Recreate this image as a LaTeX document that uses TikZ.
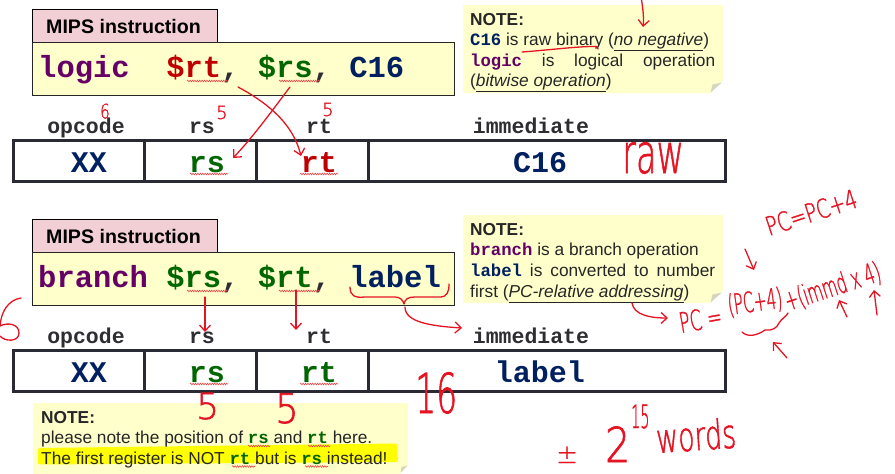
\documentclass[tikz,border=0pt]{standalone}
\usepackage{fontspec}
\setmainfont{Liberation Sans}
\newfontfamily\mono{Liberation Mono}
\newfontfamily\hand[FakeBold=1.5]{DejaVu Sans ExtraLight}
\usetikzlibrary{arrows.meta,decorations.pathmorphing}
\definecolor{tabpink}{RGB}{242,207,212}
\definecolor{boxyel}{RGB}{255,255,204}
\definecolor{foldgray}{RGB}{214,214,190}
\definecolor{opcol}{RGB}{102,0,102}
\definecolor{rtred}{RGB}{192,0,0}
\definecolor{rsgreen}{RGB}{0,102,0}
\definecolor{navyc}{RGB}{0,32,96}
\definecolor{lblgray}{RGB}{45,45,50}
\definecolor{tblline}{RGB}{42,42,52}
\definecolor{hred}{RGB}{230,20,35}
\definecolor{squigc}{RGB}{235,70,70}
\definecolor{txtgray}{RGB}{38,38,38}
\definecolor{hilite}{RGB}{255,255,0}
\newcommand\fsz[1]{\fontsize{#1}{#1}\selectfont}
\newcommand\mbx[2]{{\mono\bfseries\color{#1}#2}}
\newcommand\hsc[2]{\scalebox{#1}[1]{#2}}
\begin{document}
\begin{tikzpicture}[x=1pt,y=-1pt,
  tabst/.style={draw=black,fill=tabpink,line width=0.9pt},
  boxst/.style={draw=black!85,fill=boxyel,line width=0.9pt},
  tabtxt/.style={anchor=base west,inner sep=0pt,font=\bfseries\fsz{19.6}},
  tok/.style={anchor=base west,inner sep=0pt,font=\mono\bfseries\fsz{30.5}},
  fieldlbl/.style={anchor=base,inner sep=0pt,font=\mono\bfseries\fsz{21.5},text=lblgray},
  cell/.style={anchor=base,inner sep=0pt,font=\mono\bfseries\fsz{30}},
  tbl/.style={draw=tblline,line width=3pt},
  notebg/.style={fill=boxyel},
  fold/.style={fill=foldgray},
  notetxt/.style={anchor=base west,inner sep=0pt,font=\fsz{17.3},text=txtgray},
  hw/.style={draw=hred,line width=1.3pt,line cap=round,line join=round},
  hwarr/.style={hw,-{Straight Barb[length=6pt,width=11pt]}},
  hwt/.style={anchor=base west,inner sep=0pt,text=hred},
  squig/.style={draw=squigc,line width=0.6pt,decorate,decoration={snake,amplitude=0.8pt,segment length=2.4pt}}
]
\useasboundingbox (0,0) rectangle (895,474);
\fill[white] (0,0) rectangle (895,474);

% ===== first block =====
\draw[tabst] (32,9) rectangle (217,42);
\node[tabtxt] (tab1) at (46,33) {MIPS instruction};
\draw[boxst] (32,42) rectangle (454,95);
\node[tok,text=opcol] (l1op) at (38,77.5) {logic};
\node[tok,text=rtred] (l1rt) at (166.1,77.5) {\$rt};
\node[tok,text=lblgray] (l1c1) at (221,77.5) {,};
\node[tok,text=rsgreen] (l1rs) at (257.6,77.5) {\$rs};
\node[tok,text=lblgray] (l1c2) at (312.5,77.5) {,};
\node[tok,text=navyc] (l1im) at (349.1,77.5) {C16};
\draw[squig] (187,81) -- (228,81);
\draw[squig] (279,81) -- (320,81);

\node[fieldlbl] (f1op) at (86,133) {opcode};
\node[fieldlbl] (f1rs) at (202,133) {rs};
\node[fieldlbl] (f1rt) at (319,133) {rt};
\node[fieldlbl] (f1im) at (531,133) {immediate};

\draw[tbl] (13,140) rectangle (725,181);
\draw[tbl] (144,140) -- (144,181);
\draw[tbl] (256,140) -- (256,181);
\draw[tbl] (368,140) -- (368,181);
\node[cell,text=navyc] (c1op) at (89,172) {XX};
\node[cell,text=rsgreen] (c1rs) at (207,172) {rs};
\node[cell,text=rtred] (c1rt) at (319,172) {rt};
\node[cell,text=navyc] (c1im) at (540,172) {C16};
\draw[squig] (190,174) -- (228,174);
\draw[squig] (300,174) -- (338,174);

% note 1
\fill[notebg] (463,5) -- (723,5) -- (723,80) -- (710,93) -- (463,93) -- cycle;
\fill[fold] (710.5,92.5) -- (712.5,84.5) -- (722,82.5) -- cycle;
\node[notetxt] (n1a) at (470,25) {\textbf{NOTE:}};
\node[notetxt] (n1b) at (470,45.5) {\mbx{navyc}{C16} is raw binary (\underline{\textit{no negative}})};
\node[notetxt] (n1c) at (470,66) {\makebox[245pt][s]{\mbx{opcol}{logic} is logical operation}};
\node[notetxt] (n1d) at (470,86.7) {(\underline{\textit{bitwise operation}})};

% ===== second block =====
\draw[tabst] (32,219) rectangle (217,252);
\node[tabtxt] (tab2) at (46,243) {MIPS instruction};
\draw[boxst] (32,252) rectangle (454,305);
\node[tok,text=opcol] (l2op) at (38,287.5) {branch};
\node[tok,text=rsgreen] (l2rs) at (166.1,287.5) {\$rs};
\node[tok,text=lblgray] (l2c1) at (221,287.5) {,};
\node[tok,text=rsgreen] (l2rt) at (257.6,287.5) {\$rt};
\node[tok,text=lblgray] (l2c2) at (312.5,287.5) {,};
\node[tok,text=navyc] (l2im) at (349.1,287.5) {label};
\draw[squig] (187,291) -- (228,291);
\draw[squig] (279,291) -- (320,291);

\node[fieldlbl] (f2op) at (86,343) {opcode};
\node[fieldlbl] (f2rs) at (202,343) {rs};
\node[fieldlbl] (f2rt) at (319,343) {rt};
\node[fieldlbl] (f2im) at (531,343) {immediate};

\draw[tbl] (13,350) rectangle (725,391);
\draw[tbl] (144,350) -- (144,391);
\draw[tbl] (256,350) -- (256,391);
\draw[tbl] (368,350) -- (368,391);
\node[cell,text=navyc] (c2op) at (89,382) {XX};
\node[cell,text=rsgreen] (c2rs) at (207,382) {rs};
\node[cell,text=rsgreen] (c2rt) at (319,382) {rt};
\node[cell,text=navyc] (c2im) at (540,382) {label};
\draw[squig] (190,384) -- (228,384);
\draw[squig] (300,384) -- (338,384);

% note 2
\fill[notebg] (463,215) -- (723,215) -- (723,290) -- (710,303) -- (463,303) -- cycle;
\fill[fold] (710.5,302.5) -- (712.5,294.5) -- (722,292.5) -- cycle;
\node[notetxt] (n2a) at (470,235) {\textbf{NOTE:}};
\node[notetxt] (n2b) at (470,255.5) {\mbx{opcol}{branch} is a branch operation};
\node[notetxt] (n2c) at (470,276.5) {\makebox[245pt][s]{\mbx{navyc}{label} is converted to number}};
\node[notetxt] (n2d) at (470,297.5) {first (\underline{\textit{PC-relative addressing}})};

% note 3
\fill[notebg] (33,403) -- (408,403) -- (408,465) -- (400,474) -- (33,474) -- cycle;
\fill[fold] (400.5,473) -- (401.5,467) -- (407.5,465.5) -- cycle;
\fill[hilite, rounded corners=2pt] (38,448) -- (397,443.5) -- (398,462) -- (38,464.5) -- cycle;
\node[notetxt] (n3a) at (41,423) {\textbf{NOTE:}};
\node[notetxt] (n3b) at (41,443.5) {please note the position of \mbx{rsgreen}{rs} and \mbx{rsgreen}{rt} here.};
\node[notetxt] (n3c) at (41,464) {The first register is NOT \mbx{rsgreen}{rt} but is \mbx{rsgreen}{rs} instead!};
\draw[squig] (248,446) -- (270,446);
\draw[squig] (308,446) -- (330,446);
\draw[squig] (232,466.5) -- (255,466.5);
\draw[squig] (305,466.5) -- (328,466.5);

% ===== handwritten annotations =====
\coordinate (a1s) at (238,87);   \coordinate (a1e) at (301,156);
\coordinate (a2s) at (290,87);   \coordinate (a2e) at (233,158);
\draw[hwarr] (a1s) .. controls (262,100) and (292,120) .. (a1e);
\draw[hwarr] (a2s) .. controls (280,100) and (255,135) .. (a2e);
\node[hwt,font=\hand\fsz{20}] (h6a) at (100,118.5) {\hsc{0.75}{6}};
\node[hwt,font=\hand\fsz{18}] (h5a) at (216,119) {5};
\node[hwt,font=\hand\fsz{18}] (h5b) at (322,116) {5};

\coordinate (t1s) at (641,-3); \coordinate (t1e) at (643,27);
\draw[hwarr] (t1s) .. controls (643,8) and (644,18) .. (t1e);
\coordinate (u1s) at (522,52); \coordinate (u1e) at (598,49);
\draw[hw] (u1s) .. controls (550,50) and (580,46) .. (597,46.5) -- (u1e);
\node[hwt,font=\hand\fsz{55}] (hraw) at (622,173) {\hsc{0.61}{raw}};

\coordinate (b1s) at (205,297); \coordinate (b1e) at (205,332);
\coordinate (b2s) at (296,290); \coordinate (b2e) at (296,330);
\draw[hwarr] (b1s) -- (b1e);
\draw[hwarr] (b2s) -- (b2e);
\coordinate (brl) at (350,287); \coordinate (brr) at (449,284); \coordinate (brm) at (404,304);
\draw[hw] (brl) .. controls (350,296) and (355,298) .. (365,297) -- (395,297)
   .. controls (400,297) and (403,300) .. (brm) .. controls (405,299) and (408,297) .. (415,297)
   -- (440,297) .. controls (447,297) and (449,292) .. (brr);
\coordinate (ce) at (462,328);
\draw[hwarr] (405,307) .. controls (405,322) and (430,326) .. (ce);

\draw[hw] (21,298) .. controls (8,300) and (1,312) .. (0,326)
   .. controls (8,322) and (19,324) .. (19,333) .. controls (19,342) and (5,342) .. (0,336);

\node[hwt,font=\hand\fsz{36}] (h5c) at (196,419) {5};
\node[hwt,font=\hand\fsz{41}] (h5d) at (275,423) {\hsc{0.9}{5}};
\node[hwt,font=\hand\fsz{55}] (h16) at (415,413) {\hsc{0.6}{16}};

\node[hwt,font=\hand\fsz{26}] (hpm) at (556,463) {±};
\node[hwt,font=\hand\fsz{48}] (htwo) at (605,462) {\hsc{0.82}{2}};
\node[hwt,font=\hand\fsz{32}] (hexp) at (631,428) {\hsc{0.45}{15}};
\node[hwt,font=\hand\fsz{40},rotate=4] (hwords) at (657,453) {\hsc{0.67}{words}};

\node[hwt,font=\hand\fsz{26},rotate=18] (hpc1) at (769,236) {\hsc{0.74}{PC=PC+4}};
\coordinate (d1s) at (745,249); \coordinate (d1e) at (754,270);
\draw[hwarr] (d1s) -- (d1e);
\coordinate (p1s) at (632,303); \coordinate (p1e) at (668,318);
\draw[hwarr] (p1s) .. controls (634,315) and (650,318) .. (p1e);
\node[hwt,font=\hand\fsz{28},rotate=10] (hpc2) at (681,333) {\hsc{0.62}{PC =}};
\node[hwt,font=\hand\fsz{28},rotate=8] (hpc3) at (729,315) {\hsc{0.55}{(PC+4)}};
\node[hwt,font=\hand\fsz{28},rotate=18] (hpc4) at (788,311) {\hsc{0.56}{+(immd x 4)}};
\draw[hw] (742,332) .. controls (748,338) and (758,335) .. (765,330)
   .. controls (772,331) and (777,328) .. (779,323) .. controls (782,318) and (786,317) .. (788,313);
\coordinate (q1s) at (787,358); \coordinate (q1e) at (773,342);
\coordinate (q2s) at (847,317); \coordinate (q2e) at (839,300);
\coordinate (q3s) at (877,315); \coordinate (q3e) at (874,290);
\draw[hwarr] (q1s) -- (q1e);
\draw[hwarr] (q2s) -- (q2e);
\draw[hwarr] (q3s) -- (q3e);
\end{tikzpicture}
\end{document}
